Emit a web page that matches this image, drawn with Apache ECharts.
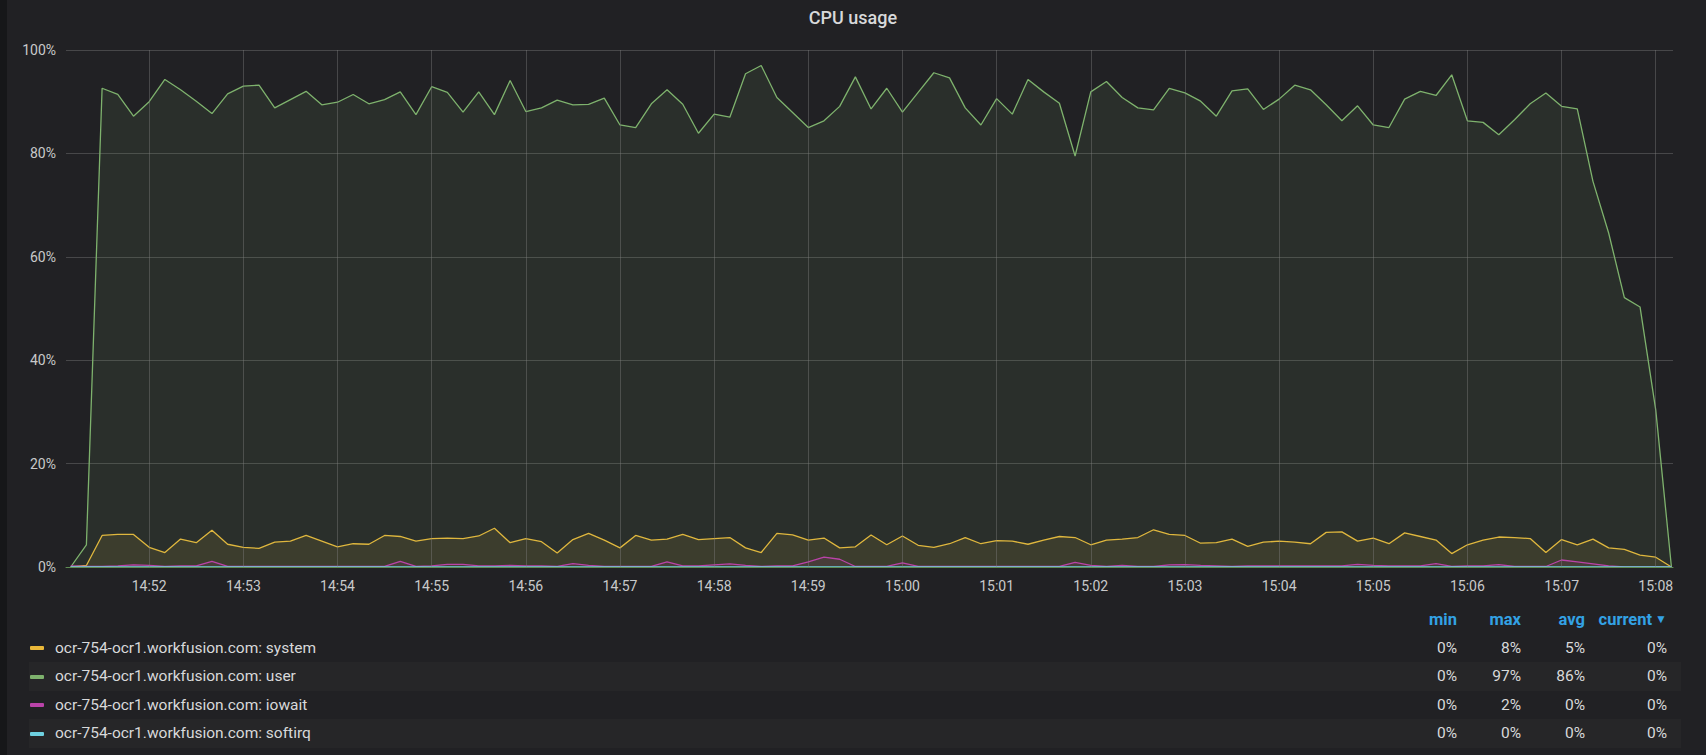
<!DOCTYPE html>
<html>
<head>
<meta charset="utf-8">
<script src="https://cdn.jsdelivr.net/npm/echarts@6/dist/echarts.min.js"></script>
<style>
  html, body { margin: 0; padding: 0; width: 1706px; height: 755px; overflow: hidden; background: #161719; font-family: Roboto, "Helvetica Neue", Arial, sans-serif; }
  #panel { position: absolute; left: 7px; top: 0; right: 0; bottom: 0; background: #212124; }
  #chart { position: absolute; left: 0; top: 0; width: 1706px; height: 755px; }
  .row { position: absolute; left: 29px; width: 1652px; height: 28.5px; }
  .row.alt { background: #262628; }
  .sw { position: absolute; left: 1px; width: 14px; height: 4px; border-radius: 1px; }
  .name { position: absolute; left: 26px; top: 0; height: 28.5px; line-height: 28.5px; color: #d8d9da; font-size: 15.5px; white-space: nowrap; }
  .val { position: absolute; color: #d8d9da; font-size: 15.5px; text-align: right; width: 80px; height: 28.5px; line-height: 28.5px; }
  .hdr { position: absolute; color: #33a2e5; font-size: 16.5px; font-weight: 700; text-align: right; width: 120px; height: 28px; line-height: 28px; white-space: nowrap; }
</style>
</head>
<body>
<div id="panel"></div>
<div id="chart"></div>
<div id="legend"></div>
<script>
// ---- data (10 s samples, first sample at 14:51:10) ----
const startTime = [14, 51, 10];
const stepSeconds = 10;
const axisStart = [14, 51, 7];
const axisEnd = [15, 8, 11];

const seriesNames = [
  'ocr-754-ocr1.workfusion.com: system',
  'ocr-754-ocr1.workfusion.com: user',
  'ocr-754-ocr1.workfusion.com: iowait',
  'ocr-754-ocr1.workfusion.com: softirq'
];
const seriesColors = ['#EAB839', '#7EB26D', '#BA43A9', '#6ED0E0'];

const systemValues = [
  0, 0.3, 6.1, 6.3, 6.3, 3.8, 2.8, 5.4, 4.7, 7.1,
  4.4, 3.8, 3.6, 4.8, 5.0, 6.1, 5.0, 3.9, 4.5, 4.4,
  6.1, 5.9, 5.0, 5.5, 5.6, 5.5, 6.0, 7.5, 4.7, 5.5,
  4.9, 2.7, 5.3, 6.5, 5.2, 3.7, 6.1, 5.2, 5.4, 6.3,
  5.3, 5.5, 5.7, 3.7, 2.8, 6.5, 6.2, 5.2, 5.6, 3.7,
  3.9, 6.2, 4.3, 6.0, 4.2, 3.8, 4.5, 5.7, 4.5, 5.1,
  5.0, 4.4, 5.2, 5.9, 5.7, 4.3, 5.2, 5.4, 5.7, 7.2,
  6.3, 6.1, 4.6, 4.7, 5.4, 4.0, 4.8, 5.0, 4.8, 4.5,
  6.7, 6.8, 5.0, 5.6, 4.5, 6.6, 5.9, 5.2, 2.6, 4.3,
  5.2, 5.8, 5.7, 5.5, 2.8, 5.3, 4.3, 5.4, 3.7, 3.4,
  2.3, 1.9, 0
];
const userValues = [
  0, 4.3, 92.6, 91.4, 87.2, 90.0, 94.3, 92.3, 90.1, 87.7,
  91.5, 93.0, 93.2, 88.8, 90.4, 92.0, 89.4, 89.9, 91.4, 89.6,
  90.4, 91.9, 87.5, 92.9, 91.8, 88.0, 91.9, 87.5, 94.1, 88.1,
  88.8, 90.3, 89.4, 89.5, 90.7, 85.5, 85.0, 89.6, 92.3, 89.5,
  83.9, 87.6, 87.0, 95.4, 97.0, 90.8, 87.9, 85.0, 86.3, 89.1,
  94.8, 88.6, 92.6, 88.0, 91.8, 95.6, 94.6, 88.8, 85.5, 90.6,
  87.6, 94.3, 91.9, 89.7, 79.5, 91.9, 93.9, 90.8, 88.8, 88.4,
  92.6, 91.7, 90.1, 87.2, 92.1, 92.5, 88.5, 90.5, 93.2, 92.3,
  89.4, 86.3, 89.2, 85.5, 85.0, 90.5, 92.0, 91.2, 95.2, 86.3,
  86.0, 83.6, 86.5, 89.6, 91.7, 89.1, 88.6, 74.6, 64.6, 52.1,
  50.3, 30.4, 0
];
const iowaitValues = [
  0.2, 0.1, 0.1, 0.2, 0.4, 0.3, 0.1, 0.2, 0.2, 1.1,
  0.1, 0.1, 0.1, 0.1, 0.1, 0.1, 0.1, 0.1, 0.1, 0.1,
  0.1, 1.1, 0.1, 0.2, 0.5, 0.5, 0.2, 0.2, 0.3, 0.2,
  0.2, 0.1, 0.65, 0.3, 0.1, 0.1, 0.1, 0.1, 1.0, 0.2,
  0.2, 0.4, 0.6, 0.3, 0.1, 0.2, 0.2, 1.0, 1.9, 1.5,
  0.1, 0.1, 0.1, 0.8, 0.1, 0.1, 0.1, 0.1, 0.1, 0.1,
  0.1, 0.1, 0.1, 0.1, 0.9, 0.3, 0.1, 0.3, 0.1, 0.1,
  0.4, 0.45, 0.3, 0.2, 0.1, 0.2, 0.2, 0.2, 0.2, 0.2,
  0.2, 0.2, 0.5, 0.3, 0.2, 0.2, 0.2, 0.65, 0.1, 0.2,
  0.2, 0.45, 0.1, 0.1, 0.1, 1.35, 1.0, 0.6, 0.2, 0,
  0, 0, 0
];
const softirqValues = [
  0, 0, 0, 0, 0, 0, 0, 0, 0, 0,
  0, 0, 0, 0, 0, 0, 0, 0, 0, 0,
  0, 0, 0, 0, 0, 0, 0, 0, 0, 0,
  0, 0, 0, 0, 0, 0, 0, 0, 0, 0,
  0, 0, 0, 0, 0, 0, 0, 0, 0, 0,
  0, 0, 0, 0, 0, 0, 0, 0, 0, 0,
  0, 0, 0, 0, 0, 0, 0, 0, 0, 0,
  0, 0, 0, 0, 0, 0, 0, 0, 0, 0,
  0, 0, 0, 0, 0, 0, 0, 0, 0, 0,
  0, 0, 0, 0, 0, 0, 0, 0, 0, 0,
  0, 0, 0
];
const yTicks = [0, 20, 40, 60, 80, 100];
const statHeaders = ['min', 'max', 'avg', 'current'];

// ---- build ----
function t(hms) { return new Date(2019, 0, 1, hms[0], hms[1], hms[2]).getTime(); }
const t0 = t(startTime);
function pairs(vals) { return vals.map((v, i) => [t0 + i * stepSeconds * 1000, v]); }
const allValues = [systemValues, userValues, iowaitValues, softirqValues];

const chart = echarts.init(document.getElementById('chart'), null, { renderer: 'svg' });
chart.setOption({
  backgroundColor: 'transparent',
  animation: false,
  title: {
    text: 'CPU usage', left: 'center', top: 3,
    textStyle: { color: '#d8d9da', fontSize: 18, fontWeight: 500, fontFamily: 'Roboto' }
  },
  grid: { left: 66, right: 33, top: 50, bottom: 188 },
  xAxis: {
    type: 'time', min: t(axisStart), max: t(axisEnd),
    minInterval: 60000, maxInterval: 60000,
    z: 10,
    axisLine: { show: true, lineStyle: { color: '#5f8d53', width: 1 } },
    axisTick: { show: false },
    splitLine: { show: true, showMinLine: false, showMaxLine: false, lineStyle: { color: 'rgba(130,130,130,0.4)', width: 1 } },
    axisLabel: {
      color: '#c8c9ca', fontSize: 14, fontFamily: 'Roboto', margin: 12,
      showMinLabel: false, showMaxLabel: false,
      formatter: '{HH}:{mm}'
    }
  },
  yAxis: {
    type: 'value', min: yTicks[0], max: yTicks[yTicks.length - 1], interval: yTicks[1] - yTicks[0],
    axisLine: { show: false }, axisTick: { show: false },
    splitLine: { lineStyle: { color: 'rgba(130,130,130,0.4)', width: 1 } },
    axisLabel: { color: '#c8c9ca', fontSize: 14, fontFamily: 'Roboto', margin: 10, formatter: '{value}%' }
  },
  series: allValues.map((vals, k) => ({
    name: seriesNames[k], type: 'line', data: pairs(vals),
    showSymbol: false, symbol: 'none',
    lineStyle: { color: seriesColors[k], width: 1.3 },
    itemStyle: { color: seriesColors[k] },
    areaStyle: { color: seriesColors[k], opacity: 0.1 },
    z: 2 + k
  }))
});

// ---- legend table ----
const legend = document.getElementById('legend');
const rights = [1457, 1521, 1585, 1667];
const headerTop = 606;
statHeaders.forEach((h, j) => {
  const d = document.createElement('div');
  d.className = 'hdr';
  d.style.left = (rights[j] - 120) + 'px';
  d.style.top = headerTop + 'px';
  d.innerHTML = h + (h === 'current' ? '<span style="font-size:12px;margin-left:3px;position:relative;top:-2px">&#9660;</span>' : '');
  legend.appendChild(d);
});
const rowTop0 = 633.5;
const rowH = 28.5;
allValues.forEach((vals, k) => {
  const top = rowTop0 + k * rowH;
  const row = document.createElement('div');
  row.className = 'row' + (k % 2 === 1 ? ' alt' : '');
  row.style.top = top + 'px';
  row.innerHTML = '<div class="sw" style="top:12.5px;background:' + seriesColors[k] + '"></div>' +
    '<div class="name">' + seriesNames[k] + '</div>';
  legend.appendChild(row);
  const mn = Math.min(...vals), mx = Math.max(...vals);
  const avg = vals.reduce((a, b) => a + b, 0) / vals.length;
  const cur = vals[vals.length - 1];
  [mn, mx, avg, cur].forEach((v, j) => {
    const d = document.createElement('div');
    d.className = 'val';
    d.style.left = (rights[j] - 80) + 'px';
    d.style.top = top + 'px';
    d.textContent = Math.round(v) + '%';
    legend.appendChild(d);
  });
});
</script>
</body>
</html>
